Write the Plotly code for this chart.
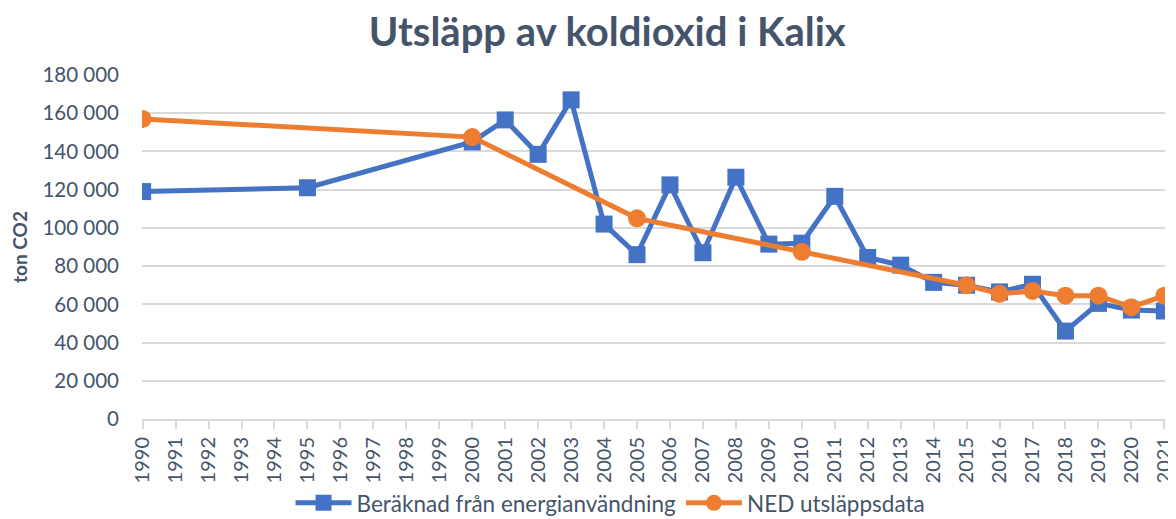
import plotly.graph_objects as go

years = [str(y) for y in range(1990, 2022)]

beraknad_years = ["1990", "1995"] + [str(y) for y in range(2000, 2022)]
beraknad_values = [119000, 121000, 145000, 156500, 138500, 167000, 102000, 86000,
                   122500, 87000, 126500, 91500, 92000, 116500, 84500, 80500,
                   71500, 70000, 66500, 70500, 46000, 60500, 57000, 56500]

ned_years = ["1990", "2000", "2005", "2010", "2015", "2016", "2017", "2018", "2019", "2020", "2021"]
ned_values = [157000, 147500, 105000, 87500, 70000, 65500, 67000, 64500, 64500, 58500, 64500]

y_ticks = [0, 20000, 40000, 60000, 80000, 100000, 120000, 140000, 160000, 180000]
y_ticktext = ["0", "20 000", "40 000", "60 000", "80 000", "100 000", "120 000", "140 000", "160 000", "180 000"]

txt = "#44546A"
font = "Lato, Open Sans, sans-serif"

fig = go.Figure()
fig.add_trace(go.Scatter(
    x=beraknad_years, y=beraknad_values, mode="lines+markers",
    name="Beräknad från energianvändning",
    line=dict(color="#4472C4", width=5),
    marker=dict(symbol="square", size=17, color="#4472C4"),
))
fig.add_trace(go.Scatter(
    x=ned_years, y=ned_values, mode="lines+markers",
    name="NED utsläppsdata",
    line=dict(color="#ED7D31", width=5),
    marker=dict(symbol="circle", size=18, color="#ED7D31"),
))

fig.update_layout(
    width=1168, height=511,
    paper_bgcolor="white", plot_bgcolor="white",
    margin=dict(l=134, r=11, t=67, b=100),
    title=dict(text="<b>Utsläpp av koldioxid i Kalix</b>", x=0.513, xanchor="center",
               y=0.953, yanchor="middle",
               font=dict(family=font, size=40, color=txt)),
    font=dict(family=font, color=txt),
    showlegend=True,
    legend=dict(orientation="h", x=0.458, xanchor="center",
                yref="container", y=0.031, yanchor="middle", itemwidth=56,
                font=dict(family=font, size=22.5, color=txt)),
    xaxis=dict(type="category", categoryorder="array", categoryarray=years,
               tickvals=years, ticktext=years, tickangle=-90, automargin=False,
               tickfont=dict(family=font, size=20, color=txt),
               showgrid=False, showline=True, linecolor="#D9D9D9", linewidth=2,
               ticks="outside", tickcolor="#D9D9D9", ticklen=8, tickwidth=2,
               range=[-0.02, 31.02]),
    yaxis=dict(range=[0, 180000], tickvals=y_ticks, ticktext=y_ticktext,
               tickfont=dict(family=font, size=20.5, color=txt), automargin=False,
               showgrid=True, gridcolor="#D9D9D9", gridwidth=2,
               zeroline=False, ticks="", ticklabelstandoff=22,
               title=dict(text="<b>ton CO2</b>", font=dict(family=font, size=19, color=txt),
                          standoff=11)),
)

fig.write_html("out.html")
